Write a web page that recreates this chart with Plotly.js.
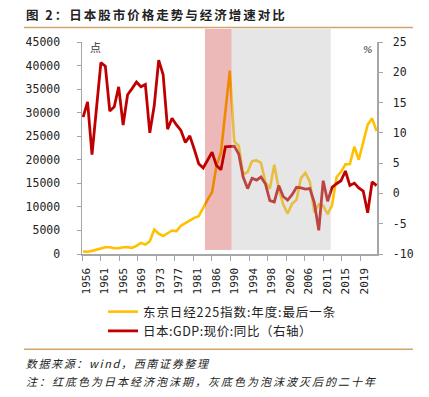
<!DOCTYPE html>
<html>
<head>
<meta charset="utf-8">
<script src="https://cdn.plot.ly/plotly-3.0.1.min.js"></script>
<style>
  html, body { margin: 0; padding: 0; background: #fff; }
  #chart { width: 429px; height: 397px; }
</style>
</head>
<body>
<div id="chart"></div>
<script>
// ---- data ----
const years = [1956,1957,1958,1959,1960,1961,1962,1963,1964,1965,1966,1967,1968,1969,1970,
  1971,1972,1973,1974,1975,1976,1977,1978,1979,1980,1981,1982,1983,1984,1985,1986,1987,1988,
  1989,1990,1991,1992,1993,1994,1995,1996,1997,1998,1999,2000,2001,2002,2003,2004,2005,2006,
  2007,2008,2009,2010,2011,2012,2013,2014,2015,2016,2017,2018,2019,2020,2021,2022];

const nikkei = [549,474,666,874,1117,1432,1420,1226,1217,1418,1452,1284,1715,2359,1987,
  2714,5208,4307,3817,4359,4991,4866,6002,6570,7116,7682,8017,9894,11543,13113,18701,21564,30159,
  38916,23849,22984,16925,17417,19723,19868,19361,15259,13842,18934,13786,10543,8579,10677,11489,16111,17226,
  15308,8860,10546,10229,8455,10395,16291,17451,19034,19114,22765,20015,23657,27444,28792,26095];

const gdpYoY = [12.6,15.1,6.4,14.0,21.6,21.0,13.6,14.3,17.6,11.3,16.3,17.3,18.4,17.6,18.0,
  10.0,14.5,22.0,19.6,10.6,12.4,11.3,10.4,8.4,9.5,7.3,4.9,4.2,5.6,6.8,4.6,3.9,7.7,
  7.8,7.8,6.5,2.7,0.8,2.5,2.2,2.7,1.6,-1.2,-1.4,1.3,-0.5,-1.1,-0.2,1.0,0.9,0.7,
  0.8,-1.5,-6.1,2.1,-1.3,1.0,1.6,2.1,3.7,1.3,1.7,0.9,0.4,-3.2,1.9,1.3];

const xTickLabels = ['1956','1961','1965','1969','1973','1977','1981','1986','1990','1994','1998','2002','2006','2011','2015','2019'];
const leftTickVals = [0,5000,10000,15000,20000,25000,30000,35000,40000,45000];
const rightTickVals = [-10,-5,0,5,10,15,20,25];
const rightTickText = ['-10','-5','0','5','10','15','20','25'];

const bubblePeriod = [1983.4, 1989.4];   // red band
const lostDecades = [1989.4, 2011.7];    // gray band

const seriesNames = ['东京日经225指数:年度:最后一条', '日本:GDP:现价:同比（右轴）'];
const titleText = '图 2：日本股市价格走势与经济增速对比';
const sourceText = '数据来源：wind，西南证券整理';
const noteText = '注：红底色为日本经济泡沫期，灰底色为泡沫波灭后的二十年';

// ---- layout helpers (pixel -> paper) ----
const W = 429, H = 397;
const M = {l: 82, r: 52, t: 42, b: 143};
const PW = W - M.l - M.r, PH = H - M.t - M.b;
const px = x => (x - M.l) / PW;
const py = y => (H - M.b - y) / PH;

const xTickVals = xTickLabels.map((_, i) => 1955.75 + i * 4.175);

const axisGray = '#a6a6a6';
const monoFont = {family: 'DejaVu Sans Mono, monospace', size: 11.5, color: '#222'};
const cjk = 'Noto Sans CJK SC, sans-serif';

// text spans in the reference: [left px, right px]
const titleSpan = [26, 287], sourceSpan = [26, 210], noteSpan = [26, 377];
const legendTextWidths = [193, 169];

const traces = [
  {x: years, y: nikkei, name: seriesNames[0], type: 'scatter', mode: 'lines',
   line: {color: '#FFC000', width: 2.6}, yaxis: 'y'},
  {x: years, y: gdpYoY, name: seriesNames[1], type: 'scatter', mode: 'lines',
   line: {color: '#C00000', width: 2.8}, yaxis: 'y2'}
];

const mid = s => px((s[0] + s[1]) / 2);

const layout = {
  width: W, height: H,
  margin: M,
  paper_bgcolor: '#fff', plot_bgcolor: '#fff',
  showlegend: true,
  xaxis: {range: [1955.75, 2022.1], tickmode: 'array', tickvals: xTickVals, ticktext: xTickLabels,
          tickangle: -90, ticks: 'outside', ticklen: 5, tickcolor: axisGray, tickwidth: 1,
          showline: true, linecolor: axisGray, linewidth: 1.5, showgrid: false, zeroline: false,
          tickfont: {family: 'DejaVu Sans Mono, monospace', size: 11, color: '#222'},
          ticklabelstandoff: 3, ticklabelshift: 4, automargin: false, fixedrange: true},
  yaxis: {range: [0, 45000], tickmode: 'array', tickvals: leftTickVals, ticktext: leftTickVals.map(String),
          ticks: 'outside', ticklen: 4, tickcolor: axisGray, showline: true, linecolor: axisGray,
          linewidth: 1.5, showgrid: false, zeroline: false, tickfont: monoFont,
          ticklabelstandoff: 14, automargin: false},
  yaxis2: {range: [-10, 25], overlaying: 'y', side: 'right', tickmode: 'array',
           tickvals: rightTickVals, ticktext: rightTickText,
           ticks: 'outside', ticklen: 4, tickcolor: axisGray, showline: true, linecolor: axisGray,
           linewidth: 1.5, showgrid: false, zeroline: false, tickfont: monoFont,
           ticklabelstandoff: 8, automargin: false},
  legend: {xref: 'paper', yref: 'paper', x: px(103), xanchor: 'left', y: py(297), yanchor: 'top',
           font: {family: cjk, size: 12.5, color: '#222'}, bgcolor: 'rgba(0,0,0,0)',
           itemwidth: 30, tracegroupgap: 0, traceorder: 'normal'},
  shapes: [
    {type: 'rect', layer: 'above', xref: 'x', yref: 'paper', x0: bubblePeriod[0], x1: bubblePeriod[1],
     y0: py(250), y1: py(29), fillcolor: 'rgb(192,0,0)', opacity: 0.28, line: {width: 0}},
    {type: 'rect', layer: 'above', xref: 'x', yref: 'paper', x0: lostDecades[0], x1: lostDecades[1],
     y0: py(250), y1: py(29), fillcolor: 'rgb(185,185,185)', opacity: 0.36, line: {width: 0}},
    {type: 'line', xref: 'paper', yref: 'paper', x0: px(24), x1: px(413), y0: py(27.5), y1: py(27.5),
     line: {color: '#D2A46C', width: 1.5}},
    {type: 'line', xref: 'paper', yref: 'paper', x0: px(24), x1: px(413), y0: py(349.3), y1: py(349.3),
     line: {color: '#D2A46C', width: 1.5}}
  ],
  annotations: [
    {text: titleText, xref: 'paper', yref: 'paper', x: mid(titleSpan), y: py(14), xanchor: 'center', yanchor: 'middle',
     showarrow: false, font: {family: cjk, size: 12.5, weight: 'bold', color: '#222'}},
    {text: '点', xref: 'paper', yref: 'paper', x: px(95), y: py(47.5), xanchor: 'center', yanchor: 'middle',
     showarrow: false, font: {family: cjk, size: 11, color: '#333'}},
    {text: '%', xref: 'paper', yref: 'paper', x: px(368), y: py(49), xanchor: 'center', yanchor: 'middle',
     showarrow: false, font: {family: 'DejaVu Serif, serif', size: 10, color: '#333', style: 'italic'}},
    {text: sourceText, xref: 'paper', yref: 'paper', x: mid(sourceSpan), y: py(363), xanchor: 'center', yanchor: 'middle',
     showarrow: false, font: {family: cjk, size: 11, color: '#222', style: 'italic'}},
    {text: noteText, xref: 'paper', yref: 'paper', x: mid(noteSpan), y: py(381), xanchor: 'center', yanchor: 'middle',
     showarrow: false, font: {family: cjk, size: 11, color: '#222', style: 'italic'}}
  ]
};

function fitSpacing(el, target) {
  if (!el) return;
  el.style.letterSpacing = '0px';
  const n = el.textContent.length;
  const w0 = el.getComputedTextLength();
  const s = (target - w0) / n;
  el.style.letterSpacing = s.toFixed(2) + 'px';
}

Plotly.newPlot('chart', traces, layout, {staticPlot: true, displayModeBar: false}).then(() => {
  const ann = i => document.querySelector('g.annotation[data-index="' + i + '"] text');
  fitSpacing(ann(0), titleSpan[1] - titleSpan[0]);
  fitSpacing(ann(3), sourceSpan[1] - sourceSpan[0]);
  fitSpacing(ann(4), noteSpan[1] - noteSpan[0]);
  // let widened legend labels show in full
  document.querySelectorAll('.legend [clip-path]').forEach(el => el.removeAttribute('clip-path'));
  const lt = document.querySelectorAll('.legend text.legendtext');
  lt.forEach((el, i) => fitSpacing(el, legendTextWidths[i]));
});
</script>
</body>
</html>
